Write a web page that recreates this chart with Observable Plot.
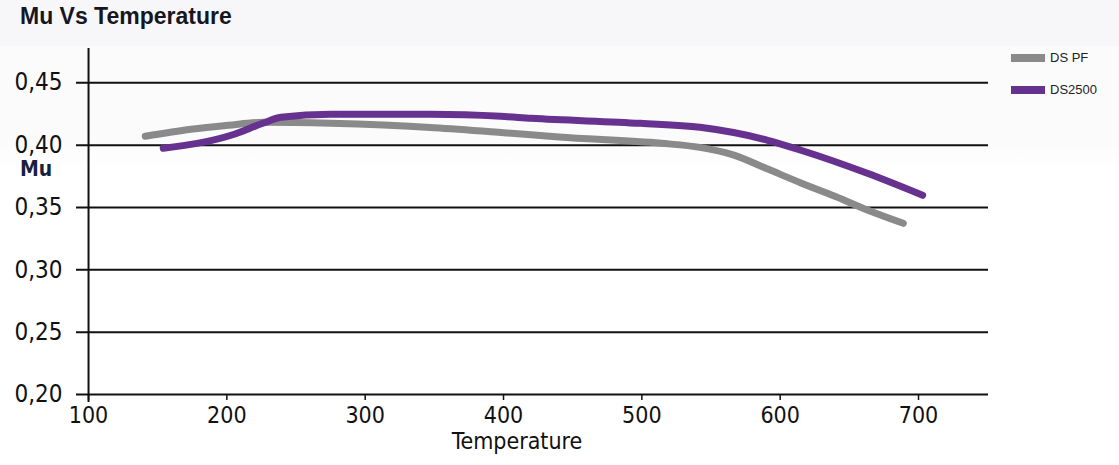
<!DOCTYPE html>
<html>
<head>
<meta charset="utf-8">
<script src="https://cdn.jsdelivr.net/npm/d3@7"></script>
<script src="https://cdn.jsdelivr.net/npm/@observablehq/plot@0.6"></script>
<style>
  html, body { margin: 0; padding: 0; background: #ffffff; }
  #wrap { position: relative; width: 1119px; height: 465px; overflow: hidden;
          background: linear-gradient(#f7f7f9 0px, #f7f7f9 46px, #fbfbfc 46px, #fbfbfc 140px, #ffffff 170px); }
  #title { position: absolute; left: 20px; top: 3px; font: bold 23px "Liberation Sans", Arial, sans-serif; color: #161620; }
  #ylab { position: absolute; left: 20px; top: 157px; font: bold 21px "DejaVu Sans Condensed", "DejaVu Sans", sans-serif; font-stretch: condensed; color: #1a1f3a; }
  #xlab { position: absolute; left: 0; width: 1034px; text-align: center; top: 430px; line-height: 1; font: 23px/1 "DejaVu Sans Condensed", "DejaVu Sans", sans-serif; font-stretch: condensed; color: #111; }
  .leg { position: absolute; left: 1011px; font: 13px "Liberation Sans", Arial, sans-serif; color: #222; display: flex; align-items: center; }
  .leg span.sw { display: inline-block; width: 34px; height: 8px; margin-right: 5px; }
  #chart { position: absolute; left: 0; top: 0; }
</style>
</head>
<body>
<div id="wrap">
  <div id="chart"></div>
  <div id="title">Mu Vs Temperature</div>
  <div id="ylab">Mu</div>
  <div id="xlab">Temperature</div>
  <div class="leg" id="leg1" style="top:50px;"><span class="sw" style="background:#8a8a8a"></span>DS PF</div>
  <div class="leg" id="leg2" style="top:82px;"><span class="sw" style="background:#66318f"></span>DS2500</div>
</div>
<script>
// Series names
const seriesNames = ["DS PF", "DS2500"];
const seriesColors = ["#8a8a8a", "#66318f"];

// DS PF (grey) — temperature / mu
const dsPfTemp = [141, 174, 201, 226, 275, 350, 400, 440, 514, 542, 566, 591, 615, 640, 663, 689];
const dsPfMu   = [0.4071, 0.4127, 0.4159, 0.4183, 0.4175, 0.4140, 0.4100, 0.4065, 0.4015, 0.3982, 0.3922, 0.3808, 0.3697, 0.3588, 0.3480, 0.3373];

// DS2500 (purple)
const ds2500Temp = [154, 203, 226, 239, 275, 347, 398, 420, 499, 542, 591, 615, 663, 703];
const ds2500Mu   = [0.3975, 0.4079, 0.4175, 0.4223, 0.4247, 0.4247, 0.4231, 0.4215, 0.4175, 0.4143, 0.4039, 0.3959, 0.3774, 0.3598];

// Axis ticks
const xTicks = [100, 200, 300, 400, 500, 600, 700];
const yTicks = [0.20, 0.25, 0.30, 0.35, 0.40, 0.45];

const data = [
  ...dsPfTemp.map((t, i) => ({series: seriesNames[0], temp: t, mu: dsPfMu[i]})),
  ...ds2500Temp.map((t, i) => ({series: seriesNames[1], temp: t, mu: ds2500Mu[i]}))
];

const chart = Plot.plot({
  width: 1119,
  height: 465,
  marginLeft: 76,
  marginRight: 131,
  marginTop: 48,
  marginBottom: 63,
  style: {background: "transparent", fontFamily: "'DejaVu Sans Condensed', 'DejaVu Sans', sans-serif", color: "#111"},
  x: {domain: [91.3, 750.6]},
  y: {domain: [0.1936, 0.4775]},
  color: {domain: seriesNames, range: seriesColors},
  marks: [
    Plot.ruleY(yTicks, {stroke: "#111", strokeWidth: 2}),
    Plot.ruleX([xTicks[0]], {stroke: "#111", strokeWidth: 2}),
    Plot.ruleX(xTicks, {y1: yTicks[0], y2: 0.1952, stroke: "#111", strokeWidth: 1.5}),
    Plot.line(data, {x: "temp", y: "mu", z: "series", stroke: "series", strokeWidth: 7,
      strokeLinecap: "round", strokeLinejoin: "round", curve: "monotone-x"}),
    Plot.axisY(yTicks, {anchor: "left", tickSize: 0, tickPadding: 14, fontSize: 24,
      tickFormat: d => d3.format(".2f")(d).replace(".", ","), label: null, fill: "#111"}),
    Plot.axisX(xTicks, {anchor: "bottom", tickSize: 0, tickPadding: 4, fontSize: 23,
      tickFormat: d => String(d), label: null, fill: "#111"})
  ]
});
document.getElementById("chart").appendChild(chart);
</script>
</body>
</html>
